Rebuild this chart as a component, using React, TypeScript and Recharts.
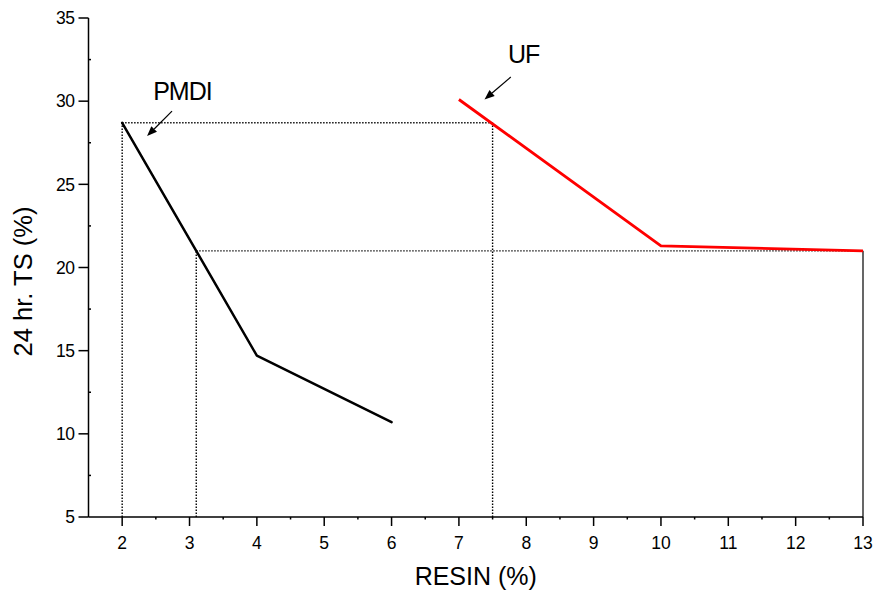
import React from 'react';
import {
    LineChart,
    Line,
    XAxis,
    YAxis,
    ReferenceLine,
    ReferenceDot,
} from 'recharts';

// resin content (%) vs 24 hr thickness swell (%)
const pmdiX = [2, 4, 6];
const pmdiY = [28.7, 14.7, 10.7];
const ufX = [7, 10, 13];
const ufY = [30.1, 21.3, 21.0];

const xMajorTicks = [2, 3, 4, 5, 6, 7, 8, 9, 10, 11, 12, 13];
const xMinorTicks = [2.5, 3.5, 4.5, 5.5, 6.5, 7.5, 8.5, 9.5, 10.5, 11.5, 12.5];
const yMajorTicks = [5, 10, 15, 20, 25, 30, 35];
const yMinorTicks = [7.5, 12.5, 17.5, 22.5, 27.5, 32.5];

// dotted guide lines: level + the x positions they span
const guideHighY = 28.7;
const guideHighX = [2, 7.5];
const guideLowY = 21.0;
const guideLowX = [3.1, 13];

// annotation text anchors and arrows [from, to]
const pmdiLabel = { x: 2.46, y: 30.1 };
const pmdiArrow = [{ x: 2.74, y: 29.4 }, { x: 2.37, y: 27.9 }];
const ufLabel = { x: 7.73, y: 32.3 };
const ufArrow = [{ x: 7.77, y: 31.45 }, { x: 7.38, y: 30.1 }];

const pmdiData = pmdiX.map((x, i) => ({ x, y: pmdiY[i] }));
const ufData = ufX.map((x, i) => ({ x, y: ufY[i] }));

const FONT = '"Liberation Sans", Arial, sans-serif';
const X_TICK_SIZE = 9;
const X_TICK_MARGIN = 11;
const Y_TICK_SIZE = 10;
const Y_TICK_MARGIN = 4;

const XTick = (props: any) => {
    const { x, y, payload } = props;
    const axisY = y - X_TICK_SIZE - X_TICK_MARGIN;
    const major = xMajorTicks.includes(payload.value);
    return (
        <g>
            <line x1={x} x2={x} y1={axisY} y2={axisY + (major ? X_TICK_SIZE : 2.5)} stroke="#000" strokeWidth={1.5} />
            {major && (
                <text x={x} y={y} dy="0.71em" textAnchor="middle" fontSize={17.5} fontFamily={FONT} fill="#000">
                    {payload.value}
                </text>
            )}
        </g>
    );
};

const YTick = (props: any) => {
    const { x, y, payload } = props;
    const axisX = x + Y_TICK_SIZE + Y_TICK_MARGIN;
    const major = yMajorTicks.includes(payload.value);
    return (
        <g>
            {major ? (
                <line x1={axisX - Y_TICK_SIZE} x2={axisX} y1={y} y2={y} stroke="#000" strokeWidth={1.5} />
            ) : (
                <line x1={axisX} x2={axisX + 2.5} y1={y} y2={y} stroke="#000" strokeWidth={1.5} />
            )}
            {major && (
                <text x={x} y={y} dy="0.355em" textAnchor="end" fontSize={17.5} fontFamily={FONT} fill="#000" letterSpacing={-0.5}>
                    {payload.value}
                </text>
            )}
        </g>
    );
};

const Arrow = (p: any) => {
    const { x1, y1, x2, y2 } = p;
    const ang = Math.atan2(y2 - y1, x2 - x1);
    const len = 10;
    const w = 4;
    const bx = x2 - len * Math.cos(ang);
    const by = y2 - len * Math.sin(ang);
    const nx = -Math.sin(ang) * w;
    const ny = Math.cos(ang) * w;
    return (
        <g>
            <line x1={x1} y1={y1} x2={bx} y2={by} stroke="#000" strokeWidth={1.2} />
            <polygon points={`${x2},${y2} ${bx + nx},${by + ny} ${bx - nx},${by - ny}`} fill="#000" />
        </g>
    );
};

const textShape = (txt: string) => (p: any) => (
    <text x={p.cx} y={p.cy} fontSize={25} fontFamily={FONT} fill="#000" letterSpacing={-1}>
        {txt}
    </text>
);

const dotted = { stroke: '#000', strokeWidth: 1.4, strokeDasharray: '1.4 1.6' };

export default function App() {
    return (
        <div style={{ position: 'absolute', left: 0, top: 0, background: '#fff' }}>
            <LineChart
                width={877}
                height={596}
                margin={{ top: 18, right: 14, bottom: 29, left: 28.5 }}
            >
                <XAxis
                    type="number"
                    dataKey="x"
                    domain={[1.5, 13]}
                    ticks={[...xMajorTicks, ...xMinorTicks].sort((a, b) => a - b)}
                    interval={0}
                    allowDataOverflow
                    height={50}
                    tickSize={X_TICK_SIZE}
                    tickMargin={X_TICK_MARGIN}
                    tickLine={false}
                    tick={<XTick />}
                    axisLine={{ stroke: '#000', strokeWidth: 1.5 }}
                    label={{
                        content: (p: any) => {
                            const vb = p.viewBox;
                            return (
                                <text x={vb.x + vb.width / 2} y={vb.y + 68} textAnchor="middle" fontSize={25} fontFamily={FONT} fill="#000">
                                    RESIN (%)
                                </text>
                            );
                        },
                    }}
                />
                <YAxis
                    type="number"
                    dataKey="y"
                    domain={[5, 35]}
                    ticks={[...yMajorTicks, ...yMinorTicks].sort((a, b) => a - b)}
                    interval={0}
                    allowDataOverflow
                    width={60}
                    tickSize={Y_TICK_SIZE}
                    tickMargin={Y_TICK_MARGIN}
                    tickLine={false}
                    tick={<YTick />}
                    axisLine={{ stroke: '#000', strokeWidth: 1.5 }}
                    label={{
                        content: (p: any) => {
                            const vb = p.viewBox;
                            const cx = 23;
                            const cy = vb.y + vb.height / 2 + 14;
                            return (
                                <text x={cx} y={cy} transform={`rotate(-90, ${cx}, ${cy})`} dy="0.35em" textAnchor="middle" fontSize={25.5} fontFamily={FONT} fill="#000">
                                    24 hr. TS (%)
                                </text>
                            );
                        },
                    }}
                />

                {/* dotted guide lines */}
                <ReferenceLine segment={[{ x: guideHighX[0], y: guideHighY }, { x: guideHighX[1], y: guideHighY }]} {...dotted} />
                <ReferenceLine segment={[{ x: guideHighX[0], y: 5 }, { x: guideHighX[0], y: guideHighY }]} {...dotted} />
                <ReferenceLine segment={[{ x: guideHighX[1], y: 5 }, { x: guideHighX[1], y: guideHighY }]} {...dotted} />
                <ReferenceLine segment={[{ x: guideLowX[0], y: guideLowY }, { x: guideLowX[1], y: guideLowY }]} {...dotted} />
                <ReferenceLine segment={[{ x: guideLowX[0], y: 5 }, { x: guideLowX[0], y: guideLowY }]} {...dotted} />
                <ReferenceLine segment={[{ x: guideLowX[1], y: 5 }, { x: guideLowX[1], y: guideLowY }]} stroke="#000" strokeWidth={1.2} />

                <Line
                    data={pmdiData}
                    dataKey="y"
                    type="linear"
                    stroke="#000"
                    strokeWidth={2.5}
                    strokeLinejoin="round"
                    strokeLinecap="round"
                    dot={false}
                    activeDot={false}
                    isAnimationActive={false}
                />
                <Line
                    data={ufData}
                    dataKey="y"
                    type="linear"
                    stroke="#ff0000"
                    strokeWidth={2.8}
                    strokeLinejoin="round"
                    dot={false}
                    activeDot={false}
                    isAnimationActive={false}
                />

                {/* annotations */}
                <ReferenceLine segment={pmdiArrow} shape={Arrow} />
                <ReferenceLine segment={ufArrow} shape={Arrow} />
                <ReferenceDot x={pmdiLabel.x} y={pmdiLabel.y} r={0} shape={textShape('PMDI')} />
                <ReferenceDot x={ufLabel.x} y={ufLabel.y} r={0} shape={textShape('UF')} />
            </LineChart>
        </div>
    );
}
